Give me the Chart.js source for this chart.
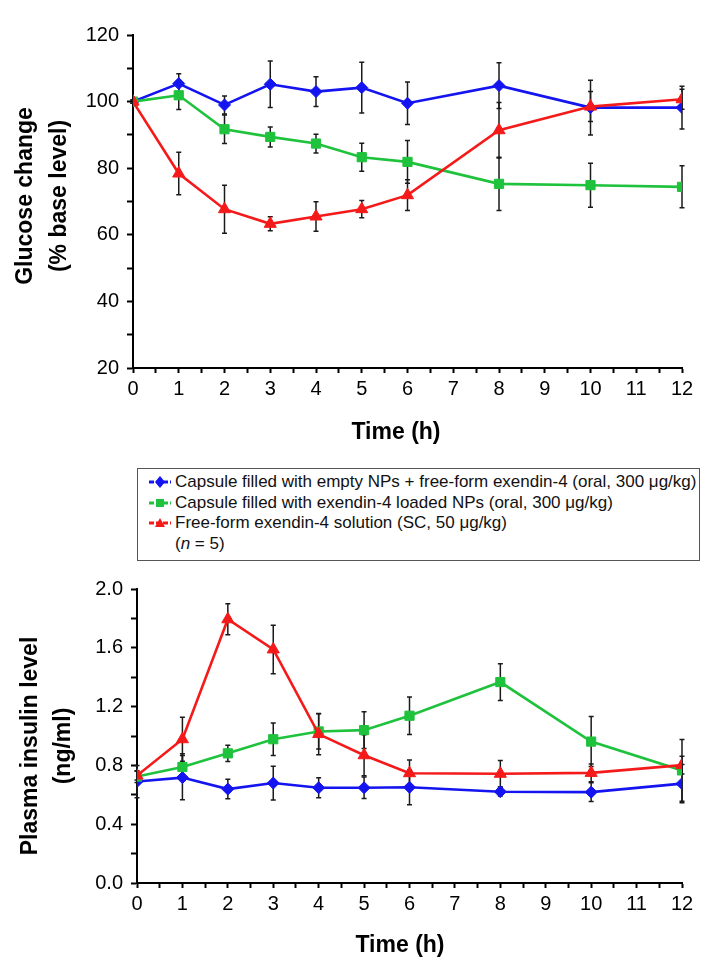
<!DOCTYPE html>
<html>
<head>
<meta charset="utf-8">
<script src="https://cdn.jsdelivr.net/npm/chart.js@4.4.1/dist/chart.umd.min.js"></script>
<style>
  html, body { margin: 0; padding: 0; background: #fff; }
  #wrap { position: relative; width: 724px; height: 976px; overflow: hidden; font-family: "Liberation Sans", Arial, sans-serif; }
  canvas { position: absolute; left: 0; }
  #legend { position: absolute; left: 137px; top: 468px; width: 561px; height: 88px; border: 1.5px solid #555;
            box-sizing: content-box; font-size: 17px; color: #111; line-height: 20.5px; padding-top: 3px; }
  #legend .row { position: relative; height: 20.5px; padding-left: 37px; white-space: nowrap; }
  #legend svg { position: absolute; left: 10px; top: 3px; }
</style>
</head>
<body>
<div id="wrap">
  <canvas id="c1" width="724" height="460" style="top:0px"></canvas>
  <div id="legend"></div>
  <canvas id="c2" width="724" height="416" style="top:560px"></canvas>
</div>
<script>
// ---------- DATA ----------
const timeHours = [0, 1, 2, 3, 4, 5, 6, 8, 10, 12];
const seriesNames = [
  "Capsule filled with empty NPs + free-form exendin-4 (oral, 300 \u03bcg/kg)",
  "Capsule filled with exendin-4 loaded NPs (oral, 300 \u03bcg/kg)",
  "Free-form exendin-4 solution (SC, 50 \u03bcg/kg)"
];
const legendNote = "(<i>n</i> = 5)";

const glucoseEmptyNP   = [100, 105.4, 99.0, 105.2, 103.0, 104.2, 99.5, 104.8, 98.2, 98.2];
const glucoseEmptyNPErr= [0.5, 3.0, 2.7, 7.0, 4.5, 7.6, 6.4, 6.9, 8.2, 6.4];
const glucoseLoadedNP  = [100, 101.9, 91.7, 89.4, 87.4, 83.3, 81.9, 75.3, 74.9, 74.4];
const glucoseLoadedNPErr=[0.5, 4.3, 4.3, 3.0, 2.8, 4.2, 6.4, 8.0, 6.6, 6.3];
const glucoseSC        = [100, 78.4, 67.7, 63.3, 65.5, 67.7, 71.9, 91.4, 98.5, 100.7];
const glucoseSCErr     = [0.5, 6.4, 7.2, 2.1, 4.4, 2.6, 4.6, 8.3, 4.5, 3.0];

const insulinEmptyNP   = [0.69, 0.717, 0.639, 0.68, 0.648, 0.648, 0.651, 0.621, 0.618, 0.676];
const insulinEmptyNPErr= [0.11, 0.15, 0.066, 0.115, 0.068, 0.073, 0.118, 0.03, 0.064, 0.13];
const insulinLoadedNP  = [0.724, 0.789, 0.882, 0.978, 1.031, 1.04, 1.138, 1.367, 0.962, 0.766];
const insulinLoadedNPErr=[0.04, 0.09, 0.055, 0.11, 0.12, 0.125, 0.128, 0.125, 0.17, 0.21];
const insulinSC        = [0.731, 0.978, 1.794, 1.589, 1.013, 0.869, 0.747, 0.743, 0.749, 0.802];
const insulinSCErr     = [0.03, 0.15, 0.105, 0.165, 0.14, 0.14, 0.09, 0.09, 0.06, 0.06];

const glucoseTicks = [20, 40, 60, 80, 100, 120];
const insulinTicks = [0.0, 0.4, 0.8, 1.2, 1.6, 2.0];
const timeTicks = [0,1,2,3,4,5,6,7,8,9,10,11,12];

// ---------- STYLE ----------
const COLORS = ["#1414f0", "#1fc23c", "#f51a1a"];
const STYLES = ["rectRot", "rect", "triangle"];
const RADII = [6, 6.5, 7];
const FONT = '"Liberation Sans", Arial, sans-serif';

function mkDatasets(vals, errs) {
  return vals.map((v, i) => ({
    label: seriesNames[i],
    data: timeHours.map((t, j) => ({ x: t, y: v[j] })),
    errors: errs[i],
    borderColor: COLORS[i],
    backgroundColor: COLORS[i],
    pointBackgroundColor: COLORS[i],
    pointBorderColor: COLORS[i],
    pointStyle: STYLES[i],
    pointRadius: RADII[i],
    pointBorderWidth: 1,
    borderWidth: 2.6,
    tension: 0,
    order: 3 - i
  }));
}

const errorBarPlugin = {
  id: 'errorBars',
  beforeDatasetsDraw(chart) {
    const ctx = chart.ctx;
    const xs = chart.scales.x, ys = chart.scales.y;
    ctx.save();
    ctx.strokeStyle = '#1a1a1a';
    ctx.lineWidth = 1.5;
    chart.data.datasets.forEach(ds => {
      ds.data.forEach((p, j) => {
        const e = ds.errors[j];
        const x = xs.getPixelForValue(p.x);
        const y1 = ys.getPixelForValue(p.y + e);
        const y2 = ys.getPixelForValue(p.y - e);
        ctx.beginPath();
        ctx.moveTo(x, y1); ctx.lineTo(x, y2);
        ctx.moveTo(x - 2.5, y1); ctx.lineTo(x + 2.5, y1);
        ctx.moveTo(x - 2.5, y2); ctx.lineTo(x + 2.5, y2);
        ctx.stroke();
      });
    });
    ctx.restore();
  }
};

const titlePlugin = {
  id: 'axisTitles',
  afterDraw(chart, args, opts) {
    const ctx = chart.ctx;
    ctx.save();
    ctx.fillStyle = '#000';
    ctx.font = 'bold 23px ' + FONT;
    ctx.textAlign = 'center';
    ctx.textBaseline = 'middle';
    (opts.items || []).forEach(it => {
      ctx.save();
      ctx.translate(it.x, it.y);
      if (it.rotate) ctx.rotate(-Math.PI / 2);
      ctx.fillText(it.text, 0, 0);
      ctx.restore();
    });
    ctx.restore();
  }
};

function makeChart(canvasId, cfg) {
  const xTickPad = cfg.xTickPad;
  return new Chart(document.getElementById(canvasId), {
    type: 'line',
    data: { datasets: mkDatasets(cfg.values, cfg.errors) },
    plugins: [errorBarPlugin, titlePlugin],
    options: {
      responsive: false,
      animation: false,
      devicePixelRatio: 1,
      layout: { padding: { top: cfg.top, right: 42, left: 0, bottom: 0 } },
      plugins: {
        legend: { display: false },
        tooltip: { enabled: false },
        axisTitles: { items: cfg.titles }
      },
      scales: {
        x: {
          type: 'linear', min: 0, max: 12,
          afterFit(s) { s.height = cfg.xHeight; },
          afterBuildTicks(s) {
            const t = [];
            for (let k = 0; k <= 24; k++) t.push({ value: k / 2 });
            s.ticks = t;
          },
          ticks: {
            autoSkip: false, maxRotation: 0, padding: xTickPad, color: '#000',
            font: { family: FONT, size: 20 },
            callback: (v) => timeTicks.includes(v) ? String(v) : ''
          },
          grid: { drawOnChartArea: false, drawTicks: true, tickLength: 5, tickWidth: 2, tickColor: '#000' },
          border: { display: true, color: '#000', width: 2 }
        },
        y: {
          type: 'linear', min: cfg.yMin, max: cfg.yMax,
          afterFit(s) { s.width = cfg.yWidth; },
          afterBuildTicks(s) {
            const t = [];
            const n = Math.round((cfg.yMax - cfg.yMin) / cfg.yMinor);
            for (let k = 0; k <= n; k++) t.push({ value: +(cfg.yMin + k * cfg.yMinor).toFixed(4) });
            s.ticks = t;
          },
          ticks: {
            autoSkip: false, padding: 8, color: '#000',
            font: { family: FONT, size: 20 },
            callback: (v) => {
              const hit = cfg.yTicks.find(t => Math.abs(t - v) < 1e-6);
              return hit === undefined ? '' : cfg.fmt(hit);
            }
          },
          grid: { drawOnChartArea: false, drawTicks: true, tickLength: 6, tickWidth: 2, tickColor: '#000' },
          border: { display: true, color: '#000', width: 2 }
        }
      }
    }
  });
}

makeChart('c1', {
  values: [glucoseEmptyNP, glucoseLoadedNP, glucoseSC],
  errors: [glucoseEmptyNPErr, glucoseLoadedNPErr, glucoseSCErr],
  top: 35, xHeight: 92, yWidth: 133, xTickPad: 4,
  yMin: 20, yMax: 120, yMinor: 10, yTicks: glucoseTicks, fmt: v => String(v),
  titles: [
    { text: 'Glucose change', x: 26, y: 196, rotate: true },
    { text: '(% base level)', x: 60, y: 196, rotate: true },
    { text: 'Time (h)', x: 396, y: 433 }
  ]
});

makeChart('c2', {
  values: [insulinEmptyNP, insulinLoadedNP, insulinSC],
  errors: [insulinEmptyNPErr, insulinLoadedNPErr, insulinSCErr],
  top: 29, xHeight: 93, yWidth: 137, xTickPad: 4,
  yMin: 0, yMax: 2.0, yMinor: 0.2, yTicks: insulinTicks, fmt: v => v.toFixed(1),
  titles: [
    { text: 'Plasma insulin level', x: 31, y: 186, rotate: true },
    { text: '(ng/ml)', x: 64, y: 186, rotate: true },
    { text: 'Time (h)', x: 400, y: 386 }
  ]
});

// ---------- LEGEND ----------
function markerSVG(i) {
  const c = COLORS[i];
  let m;
  if (i === 0) m = `<polygon points="11,1 16,7 11,13 6,7" fill="${c}"/>`;
  else if (i === 1) m = `<rect x="7" y="3" width="8" height="8" fill="${c}"/>`;
  else m = `<polygon points="11,2 16,11 6,11" fill="${c}"/>`;
  return `<svg width="24" height="14" viewBox="0 0 22 14"><line x1="0" y1="7" x2="22" y2="7" stroke="${c}" stroke-width="3" stroke-dasharray="5,2"/>${m}</svg>`;
}
const lg = document.getElementById('legend');
seriesNames.forEach((name, i) => {
  const r = document.createElement('div');
  r.className = 'row';
  r.innerHTML = markerSVG(i) + name;
  lg.appendChild(r);
});
const note = document.createElement('div');
note.className = 'row';
note.innerHTML = legendNote;
lg.appendChild(note);
</script>
</body>
</html>
